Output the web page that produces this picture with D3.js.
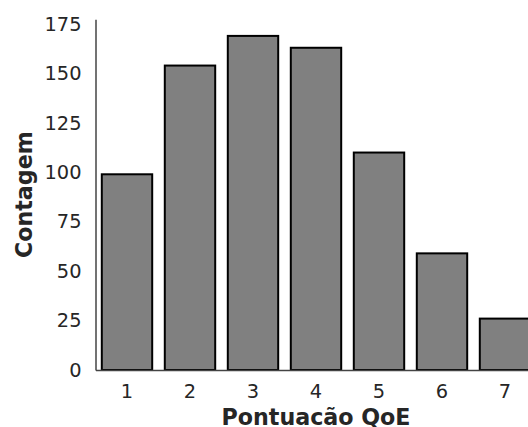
<!DOCTYPE html>
<html>
<head>
<meta charset="utf-8">
<script src="https://cdn.jsdelivr.net/npm/d3@7"></script>
<style>
  html, body { margin: 0; padding: 0; background: #fff; }
  svg { display: block; }
</style>
</head>
<body>
<svg id="chart" width="528" height="427"></svg>
<script>
const categories = ["1", "2", "3", "4", "5", "6", "7"];
const counts = [99, 154, 169, 163, 110, 59, 26];
const yTicks = [0, 25, 50, 75, 100, 125, 150, 175];
const xTitle = "Pontuacão QoE";
const yTitle = "Contagem";

const svg = d3.select("#chart");
const mLeft = 95.5, mRight = 536.5, mTop = 19.2, mBottom = 370;

const x = d3.scaleBand().domain(categories).range([mLeft, mRight]).paddingInner(0.2).paddingOuter(0.1);
const y = d3.scaleLinear().domain([0, d3.max(counts) * 1.05]).range([mBottom, mTop]);

// bars
svg.append("g").selectAll("rect").data(counts).join("rect")
  .attr("x", (d, i) => x(categories[i]))
  .attr("y", d => y(d))
  .attr("width", x.bandwidth())
  .attr("height", d => y(0) - y(d))
  .attr("fill", "#808080")
  .attr("stroke", "#000")
  .attr("stroke-width", 2);

// y axis
const yAxis = svg.append("g").attr("transform", `translate(${mLeft},0)`)
  .call(d3.axisLeft(y).tickValues(yTicks).tickSize(0).tickPadding(14));
yAxis.select(".domain").attr("stroke", "#444").attr("stroke-width", 1.5);
yAxis.selectAll("text").attr("font-family", "DejaVu Sans").attr("font-size", "19.4px").attr("fill", "#262626");

// x axis
const xAxis = svg.append("g").attr("transform", `translate(0,${mBottom})`)
  .call(d3.axisBottom(x).tickSize(0).tickPadding(14));
xAxis.select(".domain").attr("stroke", "#444").attr("stroke-width", 1.5);
xAxis.selectAll("text").attr("font-family", "DejaVu Sans").attr("font-size", "19.4px").attr("fill", "#262626");

// titles
svg.append("text")
  .attr("x", (mLeft + mRight) / 2).attr("y", 425)
  .attr("text-anchor", "middle")
  .attr("font-family", "DejaVu Sans").attr("font-weight", "bold").attr("font-size", "22.2px")
  .attr("fill", "#262626")
  .text(xTitle);

svg.append("text")
  .attr("transform", `translate(32,${(mTop + mBottom) / 2}) rotate(-90)`)
  .attr("text-anchor", "middle")
  .attr("font-family", "DejaVu Sans").attr("font-weight", "bold").attr("font-size", "22.2px")
  .attr("fill", "#262626")
  .text(yTitle);
</script>
</body>
</html>
